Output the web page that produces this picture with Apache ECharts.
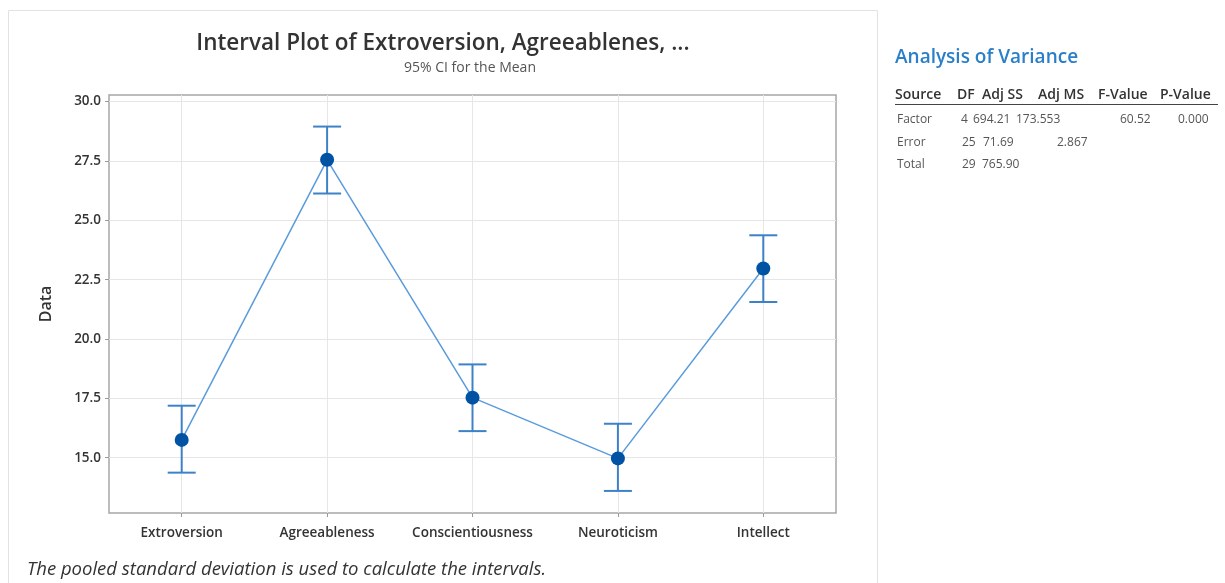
<!DOCTYPE html>
<html>
<head>
<meta charset="utf-8">
<script src="https://cdn.jsdelivr.net/npm/echarts@6/dist/echarts.min.js"></script>
<style>
html,body{margin:0;padding:0;background:#fff;}
#chart{width:1225px;height:583px;}
</style>
</head>
<body>
<div id="chart"></div>
<script>
const categories = ['Extroversion', 'Agreeableness', 'Conscientiousness', 'Neuroticism', 'Intellect'];
const means = [15.75, 27.55, 17.53, 14.97, 22.97];
const lower = [14.37, 26.13, 16.12, 13.60, 21.56];
const upper = [17.19, 28.95, 18.93, 16.43, 24.37];
const yTicks = [15, 17.5, 20, 22.5, 25, 27.5, 30];
const xTicks = [0, 1, 2, 3, 4];

const titleText = 'Interval Plot of Extroversion, Agreeablenes, ...';
const subtitleText = '95% CI for the Mean';
const yAxisName = 'Data';
const footnote = 'The pooled standard deviation is used to calculate the intervals.';

const anovaTitle = 'Analysis of Variance';
const anovaHeader = ['Source', 'DF', 'Adj SS', 'Adj MS', 'F-Value', 'P-Value'];
const anovaFactor = ['Factor', '4', '694.21', '173.553', '60.52', '0.000'];
const anovaError = ['Error', '25', '71.69', '2.867', '', ''];
const anovaTotal = ['Total', '29', '765.90', '', '', ''];

const FONT = '"Open Sans", "Noto Sans", sans-serif';

const chart = echarts.init(document.getElementById('chart'), null, {renderer: 'canvas'});

// table layout (left edges of each cell)
const headerLeft = [895, 957, 982, 1038, 1098, 1160];
const rowLefts = [
  [897, 961, 973, 1016, 1120, 1178],
  [897, 962, 983, 1057, 0, 0],
  [897, 962, 982, 0, 0, 0]
];
const rowYs = [120, 143, 165];
const rows = [anovaFactor, anovaError, anovaTotal];

const graphics = [
  {type: 'rect', silent: true, shape: {x: 8.5, y: 10.5, width: 869, height: 620},
   style: {fill: 'none', stroke: '#e2e2e2', lineWidth: 1}},
  {type: 'text', x: 443, y: 44, style: {text: titleText, font: '600 22.5px ' + FONT, fill: '#333', textAlign: 'center', textVerticalAlign: 'middle'}},
  {type: 'text', x: 470, y: 68, style: {text: subtitleText, font: '400 14px ' + FONT, fill: '#555', textAlign: 'center', textVerticalAlign: 'middle'}},
  {type: 'text', x: 27, y: 570, style: {text: footnote, font: 'italic 400 18.5px ' + FONT, fill: '#333', textAlign: 'left', textVerticalAlign: 'middle'}},
  {type: 'text', x: 895, y: 58, style: {text: anovaTitle, font: '600 19px ' + FONT, fill: '#2a7fc9', textAlign: 'left', textVerticalAlign: 'middle'}},
  {type: 'line', shape: {x1: 895, y1: 104.5, x2: 1218, y2: 104.5}, style: {stroke: '#444', lineWidth: 1}}
];
anovaHeader.forEach((h, i) => {
  graphics.push({type: 'text', x: headerLeft[i], y: 95, style: {text: h, font: '600 14px ' + FONT, fill: '#333', textAlign: 'left', textVerticalAlign: 'middle'}});
});
rows.forEach((r, ri) => {
  r.forEach((c, ci) => {
    if (!c) return;
    graphics.push({type: 'text', x: rowLefts[ri][ci], y: rowYs[ri], style: {text: c, font: '400 12px ' + FONT, fill: '#555', textAlign: 'left', textVerticalAlign: 'middle'}});
  });
});

const option = {
  backgroundColor: '#fff',
  animation: false,
  grid: {left: 109, top: 95, width: 727, height: 418, show: true, borderColor: '#a6a6a6', borderWidth: 1.5, backgroundColor: 'transparent'},
  xAxis: {
    type: 'value', min: -0.5, max: 4.5,
    axisLine: {show: false, onZero: false},
    axisTick: {show: true, customValues: xTicks, length: 4, lineStyle: {color: '#999'}},
    axisLabel: {customValues: xTicks, formatter: v => categories[Math.round(v)] || '', margin: 13,
      fontFamily: FONT, fontSize: 13.5, fontWeight: 600, color: '#333'},
    splitLine: {show: true, lineStyle: {color: '#e6e6e6', width: 1}}
  },
  yAxis: {
    type: 'value', min: 12.67, max: 30.28,
    name: yAxisName, nameLocation: 'middle', nameGap: 55, nameRotate: 90,
    nameTextStyle: {fontFamily: FONT, fontSize: 16, fontWeight: 600, color: '#333'},
    axisLine: {show: false, onZero: false},
    axisTick: {show: true, customValues: yTicks, length: 4, lineStyle: {color: '#999'}},
    axisLabel: {customValues: yTicks, formatter: v => v.toFixed(1), margin: 8,
      fontFamily: FONT, fontSize: 13.5, fontWeight: 600, color: '#333'},
    splitLine: {show: true, lineStyle: {color: '#e6e6e6', width: 1}}
  },
  graphic: graphics,
  series: [
    {
      type: 'custom',
      data: categories.map((c, i) => [i, lower[i], upper[i]]),
      renderItem: function (params, api) {
        const x = api.value(0);
        const lo = api.coord([x, api.value(1)]);
        const hi = api.coord([x, api.value(2)]);
        const hw = 14;
        const st = {stroke: '#3d82c8', lineWidth: 2, fill: 'none'};
        return {
          type: 'group',
          children: [
            {type: 'line', shape: {x1: lo[0], y1: lo[1], x2: hi[0], y2: hi[1]}, style: st},
            {type: 'line', shape: {x1: hi[0] - hw, y1: hi[1], x2: hi[0] + hw, y2: hi[1]}, style: st},
            {type: 'line', shape: {x1: lo[0] - hw, y1: lo[1], x2: lo[0] + hw, y2: lo[1]}, style: st}
          ]
        };
      },
      z: 2
    },
    {
      type: 'line',
      data: categories.map((c, i) => [i, means[i]]),
      symbol: 'circle', symbolSize: 14,
      lineStyle: {color: '#5a9bdc', width: 1.5},
      itemStyle: {color: '#0052a3'},
      z: 3
    }
  ]
};
chart.setOption(option);
</script>
</body>
</html>
